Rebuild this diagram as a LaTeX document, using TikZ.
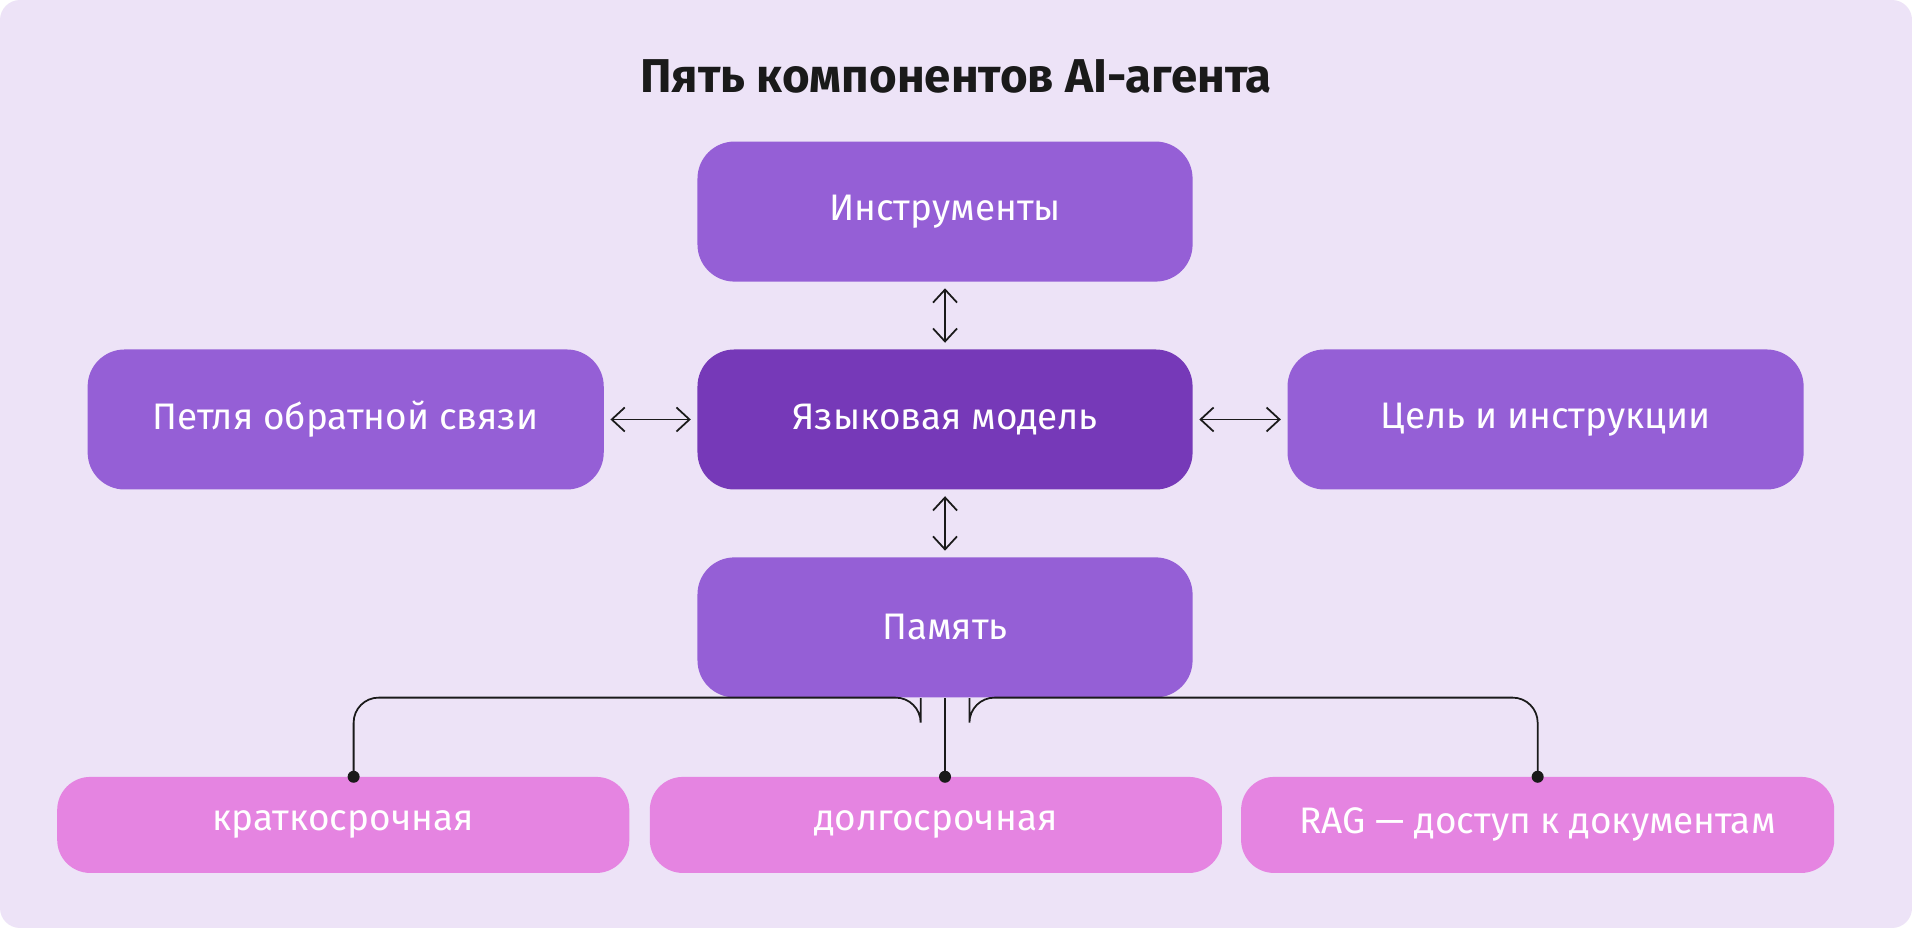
\documentclass[tikz,border=0pt]{standalone}
\usepackage{fontspec}
\setmainfont{Fira Sans}
\usetikzlibrary{arrows.meta,positioning}
\definecolor{bgcol}{HTML}{EDE3F7}
\definecolor{boxcol}{HTML}{955FD6}
\definecolor{coremcol}{HTML}{7639B8}
\definecolor{memcol}{HTML}{E584E1}
\definecolor{inkcol}{HTML}{1A1A1A}
\tikzset{
	part/.style={rounded corners=0.37cm, fill=boxcol, text=white, minimum width=4.95cm, minimum height=1.4cm, font=\fontsize{10.5}{12}\selectfont},
	kind/.style={rounded corners=0.33cm, fill=memcol, text=white, minimum height=0.96cm, font=\fontsize{10.5}{12}\selectfont},
	link/.style={inkcol, line width=0.5pt, <->, >={Straight Barb[length=1.3mm,width=2.4mm]}, shorten <=0.6mm, shorten >=0.6mm},
	branch/.style={inkcol, line width=0.5pt, rounded corners=0.25cm},
}
\begin{document}
\begin{tikzpicture}[x=0.012194cm, y=-0.012194cm]
	\fill[white] (0,0) rectangle (1568,761);
	\fill[bgcol, rounded corners=0.2cm] (0,0) rectangle (1568,761);
	\node[font=\bfseries\fontsize{13.5}{16}\selectfont, text=inkcol] (title) at (784,63) {Пять компонентов AI-агента};
	
	% main components
	\node[part] (tools) at (775,173.5) {Инструменты};
	\node[part, fill=coremcol] (llm) at (775,344) {Языковая модель};
	\node[part, minimum width=5.16cm] (loop) at (283.5,344) {Петля обратной связи};
	\node[part, minimum width=5.16cm] (goal) at (1267.5,344) {Цель и инструкции};
	\node[part] (mem) at (775,514.5) {Память};
	
	% memory kinds
	\node[kind, minimum width=5.72cm] (short) at (281.5,676.5) {краткосрочная};
	\node[kind, minimum width=5.72cm] (long) at (767.5,676.5) {долгосрочная};
	\node[kind, minimum width=5.93cm] (rag) at (1261,676.5) {RAG — доступ к документам};
	
	\draw[link] (tools) -- (llm);
	\draw[link] (llm) -- (mem);
	\draw[link] (loop) -- (llm);
	\draw[link] (llm) -- (goal);
	
	\coordinate (shortpin) at (290,637);
	\coordinate (longpin) at (775,637);
	\coordinate (ragpin) at (1261,637);
	\draw[branch] ([xshift=-0.244cm]mem.south) -- ++(0,-0.4) -| (shortpin);
	\draw[branch] (mem.south) -- (longpin);
	\draw[branch] ([xshift=0.244cm]mem.south) -- ++(0,-0.4) -| (ragpin);
	\foreach \pin in {shortpin,longpin,ragpin}
		\fill[inkcol] (\pin) circle [radius=0.06cm];
\end{tikzpicture}
\end{document}
